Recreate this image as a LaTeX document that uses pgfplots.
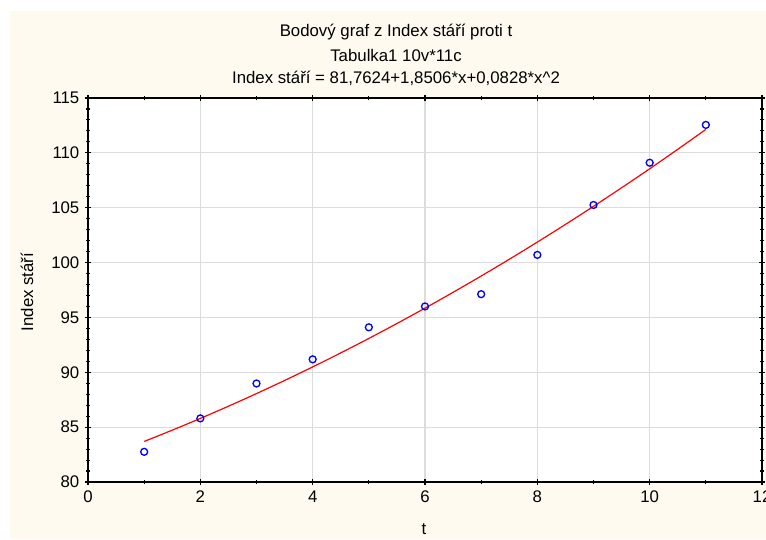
\documentclass[border=0pt]{standalone}
\usepackage{pgfplots}
\pgfplotsset{compat=1.18}
\usepackage{fontspec}
\setmainfont{Liberation Sans}
\definecolor{cream}{RGB}{254,250,240}
\definecolor{gridgray}{RGB}{220,220,220}
\newcommand{\lf}{\fontsize{12.6}{15}\selectfont}
\begin{document}
\begin{tikzpicture}
\path[use as bounding box] (0,0) rectangle (574.5pt,404.25pt);
\fill[cream] (7.5pt,0) rectangle (574.5pt,396pt);
\begin{axis}[
  at={(66pt,42.75pt)}, anchor=south west,
  scale only axis, width=505.5pt, height=288pt,
  xmin=0, xmax=12, ymin=80, ymax=115,
  xtick={0,2,4,6,8,10,12}, ytick={80,85,90,95,100,105,110,115},
  minor x tick num=1, minor y tick num=4,
  axis background/.style={fill=white},
  grid=major, major grid style={gridgray, line width=0.8pt},
  axis line style={black, line width=1.1pt},
  tick align=center, major tick length=4pt, minor tick length=2.5pt,
  tick style={black, line width=0.8pt},
  /pgf/number format/assume math mode=true,
  ticklabel style={font=\lf},
  xticklabel style={yshift=-1pt},
  yticklabel style={xshift=-1pt},
  clip=false,
]
\addplot[red, line width=0.9pt, smooth] coordinates {
(1,83.6958) (1.5,84.7246) (2,85.7948) (2.5,86.9064) (3,88.0594) (3.5,89.2538)
(4,90.4896) (4.5,91.7668) (5,93.0854) (5.5,94.4454) (6,95.8468) (6.5,97.2896)
(7,98.7738) (7.5,100.2994) (8,101.8664) (8.5,103.4748) (9,105.1246) (9.5,106.8158)
(10,108.5484) (10.5,110.3224) (11,112.1378)};
\addplot[only marks, mark=o, mark size=2.6pt, blue, mark options={line width=1pt}] coordinates {
(1,82.75) (2,85.8) (3,88.98) (4,91.18) (5,94.1) (6,96.0) (7,97.12) (8,100.7) (9,105.25) (10,109.1) (11,112.55)};
\end{axis}
\node[font=\lf] at (297pt,380.25pt) {Bodový graf z Index stáří proti t};
\node[font=\lf] at (297pt,362.25pt) {Tabulka1 10v*11c};
\node[font=\lf] at (297pt,345.75pt) {Index stáří = 81,7624+1,8506*x+0,0828*x\textasciicircum 2};
\node[font=\lf, rotate=90] at (20.25pt,185.25pt) {Index stáří};
\node[font=\lf] at (318pt,7.5pt) {t};
\end{tikzpicture}
\end{document}
